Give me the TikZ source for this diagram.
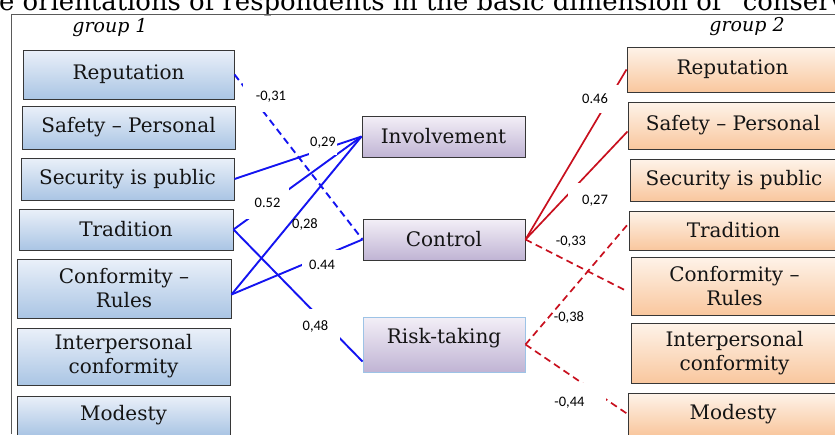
\documentclass[tikz,border=0pt]{standalone}
\usepackage{fontspec}
\setmainfont{DejaVu Serif}
\newfontfamily\numfont{Carlito}
\definecolor{bluetop}{RGB}{234,240,249}
\definecolor{bluebot}{RGB}{170,197,228}
\definecolor{lilactop}{RGB}{243,239,247}
\definecolor{lilacbot}{RGB}{192,180,212}
\definecolor{peachtop}{RGB}{254,243,233}
\definecolor{peachbot}{RGB}{249,199,158}
\definecolor{boxline}{RGB}{55,55,55}
\definecolor{riskline}{RGB}{157,195,230}
\definecolor{framegray}{RGB}{90,90,90}
\definecolor{lineblue}{RGB}{20,20,240}
\definecolor{linered}{RGB}{200,16,30}

\begin{document}
\begin{tikzpicture}[x=1pt,y=-1pt,inner sep=0pt]
\tikzstyle{box}=[draw=boxline,line width=1pt,align=center,text=black!92,font=\fontsize{20}{24}\selectfont]
\tikzstyle{lb}=[box,top color=bluetop,bottom color=bluebot]
\tikzstyle{cb}=[box,top color=lilactop,bottom color=lilacbot]
\tikzstyle{rb}=[box,top color=peachtop,bottom color=peachbot]
\tikzstyle{bl}=[lineblue,line width=1.9pt]
\tikzstyle{rd}=[linered,line width=1.7pt]
\tikzstyle{dsh}=[dash pattern=on 7pt off 4.5pt]
\tikzstyle{wt}=[font=\numfont\fontsize{14.5}{16}\selectfont]
\tikzstyle{wc}=[wt,fill=white]

    \useasboundingbox (0,0) rectangle (835,434);

    % caption line, cut off by the page
    \node[anchor=base west] (title) at (-1,10) {\resizebox{846pt}{!}{\llap{th}e orientations of respondents in the basic dimension of “conserv\rlap{ation”}}};
    \draw[framegray,line width=0.8pt] (11,434) -- (11,14) -- (835,14);

    \node[anchor=base,font=\itshape\fontsize{19}{21}\selectfont] (g1) at (110,32) {group 1};
    \node[anchor=base,font=\itshape\fontsize{19}{21}\selectfont] (g2) at (747,31) {group 2};

    % group 1
    \node[lb,minimum width=211,minimum height=49] (l1) at (128.5,74.5) {Reputation};
    \node[lb,minimum width=213,minimum height=43] (l2) at (128.5,127.5) {Safety – Personal};
    \node[lb,minimum width=213,minimum height=42] (l3) at (127.5,179) {Security is public};
    \node[lb,minimum width=214,minimum height=41] (l4) at (126,229.5) {Tradition};
    \node[lb,minimum width=214,minimum height=59] (l5) at (124,288.5) {Conformity –\\Rules};
    \node[lb,minimum width=213,minimum height=57] (l6) at (123.5,356.5) {Interpersonal\\conformity};
    \node[lb,minimum width=213,minimum height=39] (l7) at (123.5,415.5) {Modesty};

    % middle
    \node[cb,minimum width=163,minimum height=41] (c1) at (443.5,136.5) {Involvement};
    \node[cb,minimum width=162,minimum height=41] (c2) at (444,239.5) {Control};
    \node[cb,draw=riskline,minimum width=162,minimum height=55,text depth=17pt] (c3) at (444,344.5) {Risk-taking};

    % group 2
    \node[rb,minimum width=211,minimum height=45] (r1) at (732.5,69.5) {Reputation};
    \node[rb,minimum width=210,minimum height=47] (r2) at (733,125.5) {Safety – Personal};
    \node[rb,minimum width=208,minimum height=42] (r3) at (734,180) {Security is public};
    \node[rb,minimum width=209,minimum height=39] (r4) at (733.5,230.5) {Tradition};
    \node[rb,minimum width=207,minimum height=58] (r5) at (734.5,286) {Conformity –\\Rules};
    \node[rb,minimum width=207,minimum height=60] (r6) at (734.5,353) {Interpersonal\\conformity};
    \node[rb,minimum width=210,minimum height=42] (r7) at (733,414) {Modesty};

    \draw[bl,dsh] (l1.east) edge (c2.west);
    \draw[bl] (l3.east) edge (c1.west);
    \draw[bl] (l4.east) edge (c1.west);
    \draw[bl] (l4.east) edge ([yshift=-17pt]c3.west);
    \draw[bl] ([yshift=-6pt]l5.east) edge (c1.west);
    \draw[bl] ([yshift=-6pt]l5.east) edge (c2.west);

    \draw[rd] (c2.east) edge (r1.west);
    \draw[rd] (c2.east) edge ([yshift=-6pt]r2.west);
    \draw[rd,dsh,shorten >=5pt] (c2.east) edge ([yshift=-7pt]r5.west);
    \draw[rd,dsh] (c3.east) edge ([yshift=7pt]r4.west);
    \draw[rd,dsh] (c3.east) edge (r7.west);

    % weights
    \node[wc,minimum width=56,minimum height=30] (w1) at (271,97) {-0,31};
    \node[wc,minimum width=28,minimum height=23] (w2) at (323,143) {0,29};
    \node[wc,minimum width=43,minimum height=32] (w3) at (267.5,203) {0.52};
    \node[wt] (w4) at (305,224.5) {0,28};
    \node[wc,minimum width=40,minimum height=30] (w5) at (322,265) {0.44};
    \node[wc,minimum width=49,minimum height=35] (w6) at (315.5,326.5) {0,48};
    \node[wc,minimum width=54,minimum height=28] (w7) at (595,99) {0.46};
    \node[wc,minimum width=54,minimum height=36] (w8) at (595,201) {0,27};
    \node[wt] (w9) at (571,241.5) {-0,33};
    \node[wt] (w10) at (569,317) {-0,38};
    \node[wc,minimum width=72,minimum height=40] (w11) at (569.5,403) {-0,44};

\end{tikzpicture}
\end{document}
